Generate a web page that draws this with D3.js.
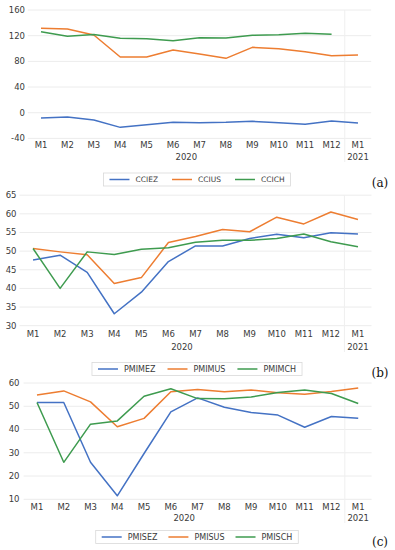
<!DOCTYPE html>
<html>
<head>
  <script src="https://d3js.org/d3.v7.min.js"></script>
  <style>
    body { margin: 0; background: white; }
    svg { display: block; background: white; }
    text { font-family: "DejaVu Sans", sans-serif; fill: #3a3a3a; }
    .tag { font-family: "DejaVu Serif", serif; fill: #111; }
  </style>
</head>
<body>
<svg width="395" height="550"></svg>
<script>
// categories (multi-level: month / year)
const months = ["M1", "M2", "M3", "M4", "M5", "M6", "M7", "M8", "M9", "M10", "M11", "M12", "M1"];
const yearGroups = [{ label: "2020", from: 0, to: 11 }, { label: "2021", from: 12, to: 12 }];

// (a) consumer confidence
const cciEZ = [-8.3, -6.7, -11.4, -22.8, -18.7, -15, -15.6, -15, -13.4, -15.6, -18.1, -12.9, -16];
const cciUS = [131.5, 130.4, 121, 86.8, 86.8, 97.7, 91.4, 84.7, 101.8, 99.7, 95, 88.8, 89.9];
const cciCH = [126.2, 119, 122, 115.9, 115.3, 112.2, 116.8, 116.4, 120.5, 121.5, 123.6, 122.1, null];
const ticksA = [-40, 0, 40, 80, 120, 160];

// (b) manufacturing PMI
const pmimEZ = [47.6, 48.9, 44.3, 33.2, 39.0, 47.2, 51.4, 51.4, 53.4, 54.5, 53.6, 54.9, 54.6];
const pmimUS = [50.7, 49.8, 49.0, 41.3, 42.9, 52.3, 53.9, 55.8, 55.2, 59.1, 57.3, 60.5, 58.5];
const pmimCH = [50.7, 40.0, 49.8, 49.1, 50.5, 50.9, 52.4, 52.9, 52.9, 53.4, 54.6, 52.5, 51.2];
const ticksB = [30, 35, 40, 45, 50, 55, 60, 65];

// (c) services PMI
const pmisEZ = [51.6, 51.6, 25.9, 11.5, 29.7, 47.6, 53.6, 49.6, 47.3, 46.2, 41.0, 45.6, 44.8];
const pmisUS = [54.8, 56.6, 51.9, 41.2, 44.8, 56.2, 57.2, 56.2, 57.0, 55.8, 55.2, 56.3, 57.9];
const pmisCH = [51.6, 25.9, 42.3, 43.7, 54.3, 57.5, 53.3, 53.2, 54.0, 55.9, 57.0, 55.5, 51.2];
const ticksC = [10, 20, 30, 40, 50, 60];

const colors = ["#4472C4", "#ED7D31", "#3E9B4F"];

const svg = d3.select("svg");

const panels = [
  { tag: "(a)", names: ["CCIEZ", "CCIUS", "CCICH"], series: [cciEZ, cciUS, cciCH], ticks: ticksA,
    x0: 27.8, x1: 371.2, yTop: 10, yBot: 138.4, labelRight: 25, tickY: 145, yearY: 157,
    legY: 179.5, legFont: 7.5, legGap: 14, tagY: 183 },
  { tag: "(b)", names: ["PMIMEZ", "PMIMUS", "PMIMCH"], series: [pmimEZ, pmimUS, pmimCH], ticks: ticksB,
    x0: 19.5, x1: 371.5, yTop: 195.2, yBot: 325.7, labelRight: 16.5, tickY: 334, yearY: 347,
    legY: 369, legFont: 8, legGap: 12, tagY: 373 },
  { tag: "(c)", names: ["PMISEZ", "PMISUS", "PMISCH"], series: [pmisEZ, pmisUS, pmisCH], ticks: ticksC,
    x0: 23.6, x1: 371.6, yTop: 383, yBot: 499.3, labelRight: 19.5, tickY: 507, yearY: 518,
    legY: 537, legFont: 8, legGap: 11, tagY: 542 }
];

panels.forEach(p => {
  const g = svg.append("g");

  const x = d3.scaleBand().domain(d3.range(months.length)).range([p.x0, p.x1]).paddingInner(0).paddingOuter(0);
  const xc = i => x(i) + x.bandwidth() / 2;
  const y = d3.scaleLinear().domain(d3.extent(p.ticks)).range([p.yBot, p.yTop]);

  // gridlines
  g.append("g").selectAll("line").data(p.ticks).join("line")
    .attr("x1", p.x0).attr("x2", p.x1)
    .attr("y1", d => y(d)).attr("y2", d => y(d))
    .attr("stroke", "#ececec").attr("stroke-width", 1);

  // year divider
  g.append("line")
    .attr("x1", x(12)).attr("x2", x(12))
    .attr("y1", p.yTop).attr("y2", p.yearY + 5)
    .attr("stroke", "#efefef");

  // y tick labels
  g.append("g").selectAll("text").data(p.ticks).join("text")
    .attr("x", p.labelRight).attr("y", d => y(d))
    .attr("dy", "0.35em").attr("text-anchor", "end")
    .attr("font-size", "8.5px")
    .text(d => d);

  // month labels
  g.append("g").selectAll("text").data(months).join("text")
    .attr("x", (d, i) => xc(i)).attr("y", p.tickY)
    .attr("dy", "0.35em").attr("text-anchor", "middle")
    .attr("font-size", "8.5px")
    .text(d => d);

  // year labels
  g.append("g").selectAll("text").data(yearGroups).join("text")
    .attr("x", d => (xc(d.from) + xc(d.to)) / 2).attr("y", p.yearY)
    .attr("dy", "0.35em").attr("text-anchor", "middle")
    .attr("font-size", "8.5px")
    .text(d => d.label);

  // lines
  const line = d3.line()
    .defined(d => d != null)
    .x((d, i) => xc(i))
    .y(d => y(d));

  g.append("g").selectAll("path").data(p.series).join("path")
    .attr("d", d => line(d))
    .attr("fill", "none")
    .attr("stroke", (d, i) => colors[i])
    .attr("stroke-width", 1.5)
    .attr("stroke-linejoin", "round");

  // legend
  const leg = g.append("g");
  const box = leg.append("rect");
  let cx = 6;
  p.names.forEach((n, i) => {
    leg.append("line")
      .attr("x1", cx).attr("x2", cx + 20)
      .attr("y1", 0).attr("y2", 0)
      .attr("stroke", colors[i]).attr("stroke-width", 1.5);
    const t = leg.append("text")
      .attr("x", cx + 26).attr("y", 0).attr("dy", "0.35em")
      .attr("font-size", p.legFont + "px")
      .text(n);
    cx += 26 + t.node().getComputedTextLength() + p.legGap;
  });
  const w = cx - p.legGap + 6;
  box.attr("x", 0).attr("y", -6.5).attr("width", w).attr("height", 13)
    .attr("fill", "white").attr("stroke", "#d9d9d9").attr("stroke-width", 0.8);
  leg.attr("transform", `translate(${197 - w / 2},${p.legY})`);

  // panel tag
  g.append("text").attr("class", "tag")
    .attr("x", 380).attr("y", p.tagY).attr("dy", "0.35em")
    .attr("text-anchor", "middle").attr("font-size", "12px")
    .text(p.tag);
});
</script>
</body>
</html>
